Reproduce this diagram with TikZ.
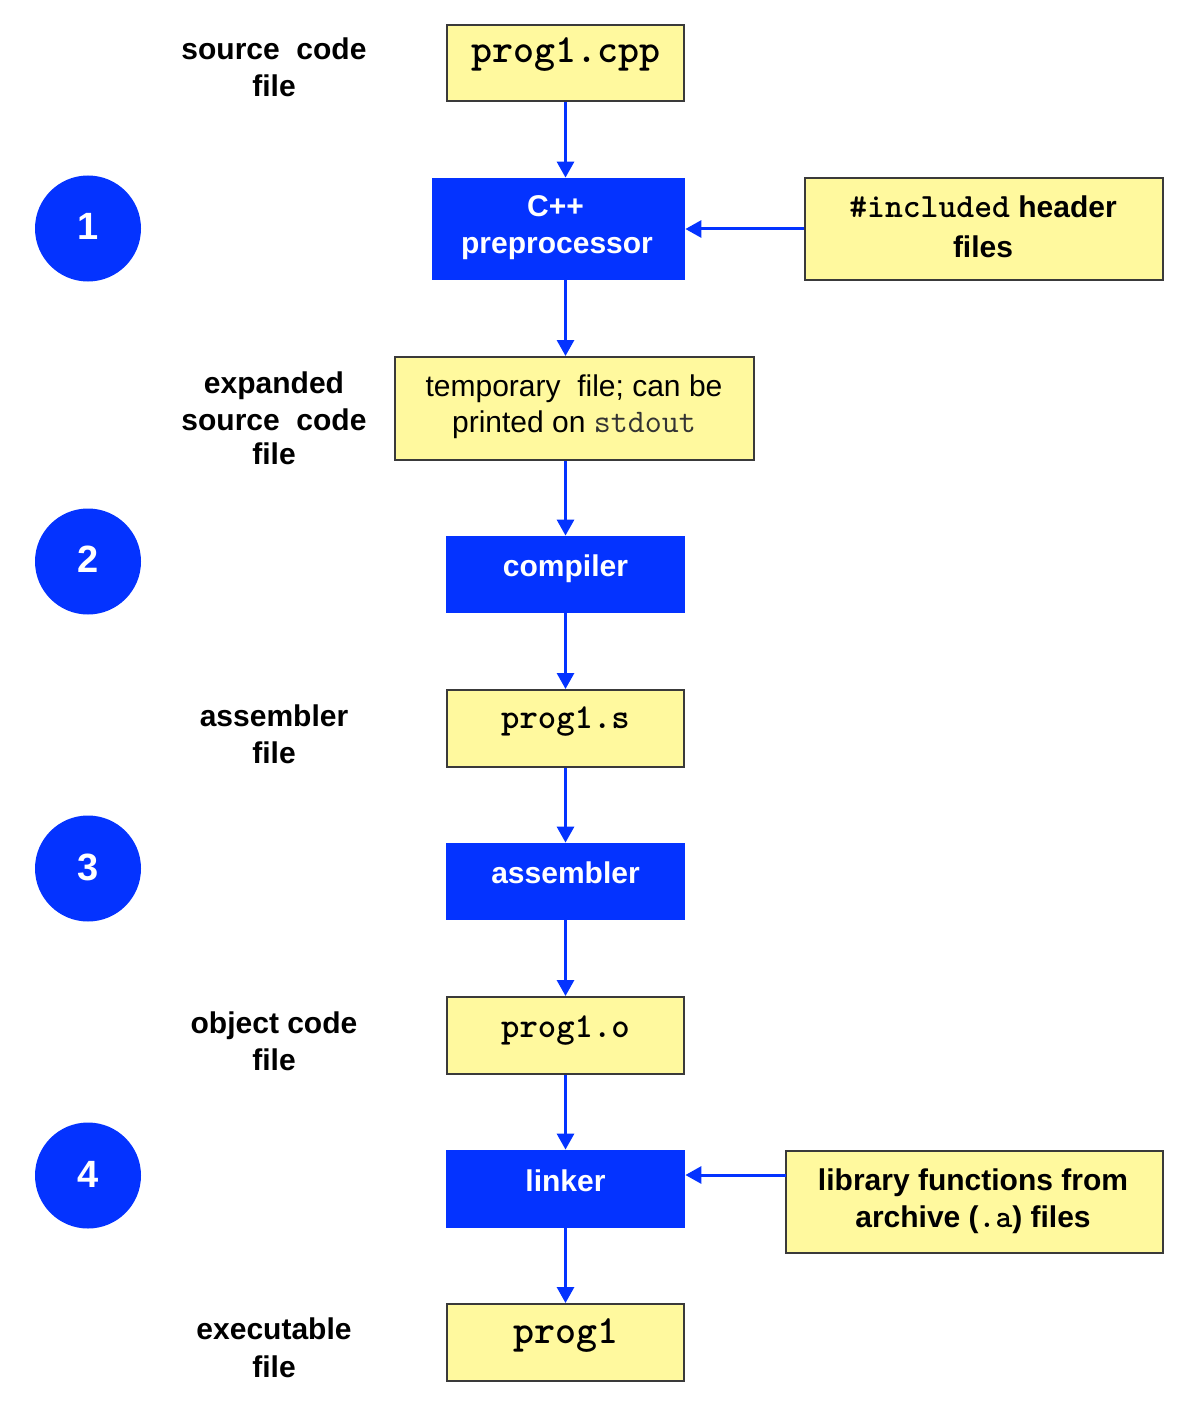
\documentclass[tikz,border=0pt]{standalone}
\usepackage{fontspec}
\setmainfont{Liberation Sans}
\usetikzlibrary{arrows.meta}
\definecolor{bblue}{HTML}{0433FF}
\definecolor{byellow}{HTML}{FFF99E}
\definecolor{boxline}{HTML}{3A3A3A}
\tikzset{
  filebox/.style={draw=boxline, line width=1pt, fill=byellow, inner sep=0pt},
  stepbox/.style={fill=bblue, inner sep=0pt},
  numdisc/.style={circle, fill=bblue, inner sep=0pt, minimum size=53pt},
  lbl/.style={anchor=base, inner sep=0pt, font=\bfseries\fontsize{15}{18}\selectfont},
  wlbl/.style={lbl, text=white},
  plain/.style={anchor=base, inner sep=0pt, font=\fontsize{15}{18}\selectfont},
  numtxt/.style={anchor=base, inner sep=0pt, text=white, font=\bfseries\fontsize{19}{22}\selectfont},
  bigcode/.style={anchor=base, inner sep=0pt, font=\ttfamily\bfseries\fontsize{20}{22}\selectfont},
  code/.style={anchor=base, inner sep=0pt, font=\ttfamily\bfseries\fontsize{17.5}{20}\selectfont},
  flow/.style={draw=bblue, line width=1.5pt, -{Triangle[length=8pt,width=8.5pt]}},
}
\begin{document}
\begin{tikzpicture}[x=0.5pt,y=-0.5pt]
\useasboundingbox (0,0) rectangle (1186,1412);
% boxes
\node[filebox, minimum width=118.5pt, minimum height=38pt] (cpp) at (565.5,63) {};
\node[stepbox, minimum width=126.5pt, minimum height=51pt] (pre) at (558.5,229) {};
\node[filebox, minimum width=179pt, minimum height=51pt] (hdr) at (984,229) {};
\node[filebox, minimum width=179.5pt, minimum height=51.5pt] (tmp) at (574.5,408.5) {};
\node[stepbox, minimum width=119.5pt, minimum height=38.5pt] (cmp) at (565.5,574.5) {};
\node[filebox, minimum width=118.5pt, minimum height=38.5pt] (asm) at (565.5,728.5) {};
\node[stepbox, minimum width=119.5pt, minimum height=38.5pt] (asb) at (565.5,881.5) {};
\node[filebox, minimum width=118.5pt, minimum height=38.5pt] (obj) at (565.5,1035.5) {};
\node[stepbox, minimum width=119.5pt, minimum height=39pt] (lnk) at (565.5,1189) {};
\node[filebox, minimum width=188.5pt, minimum height=51pt] (lib) at (974.5,1202) {};
\node[filebox, minimum width=118.5pt, minimum height=38.5pt] (exe) at (565.5,1342.5) {};
% step discs
\node[numdisc] (d1) at (88,228.5) {};
\node[numdisc] (d2) at (88,561.5) {};
\node[numdisc] (d3) at (88,868.5) {};
\node[numdisc] (d4) at (88,1175.5) {};
\node[numtxt] (n1) at (88,240) {1};
\node[numtxt] (n2) at (88,572) {2};
\node[numtxt] (n3) at (88,880) {3};
\node[numtxt] (n4) at (88,1187) {4};
% box texts
\node[bigcode] (tcpp) at (565.5,63) {prog1.cpp};
\node[wlbl] (tpre1) at (555.5,217) {C++};
\node[wlbl] (tpre2) at (557,253) {preprocessor};
\node[lbl] (thdr1) at (983,218) {{\ttfamily\fontsize{17}{20}\selectfont\#included} header};
\node[lbl] (thdr2) at (983,257) {files};
\node[plain] (ttmp1) at (574,396) {temporary\ \ file; can be};
\node[plain] (ttmp2) at (574,432) {printed on {\ttfamily\mdseries\fontsize{16.5}{20}\selectfont\color{black!80}stdout}};
\node[wlbl] (tcmp) at (565.5,576) {compiler};
\node[code] (tasm) at (565.5,728) {prog1.s};
\node[wlbl] (tasb) at (565.5,883) {assembler};
\node[code] (tobj) at (565.5,1037) {prog1.o};
\node[wlbl] (tlnk) at (565.5,1191) {linker};
\node[lbl] (tlib1) at (973,1190) {library functions from};
\node[lbl] (tlib2) at (973,1227) {archive ({\ttfamily\fontsize{16}{20}\selectfont.a}) files};
\node[bigcode] (texe) at (565.5,1343) {prog1};
% side labels
\node[lbl] (s1a) at (274,60) {source\ \ code};
\node[lbl] (s1b) at (274,97) {file};
\node[lbl] (s2a) at (274,393) {expanded};
\node[lbl] (s2b) at (274,430) {source\ \ code};
\node[lbl] (s2c) at (274,464) {file};
\node[lbl] (s3a) at (274,726) {assembler};
\node[lbl] (s3b) at (274,763) {file};
\node[lbl] (s4a) at (274,1033) {object code};
\node[lbl] (s4b) at (274,1070) {file};
\node[lbl] (s5a) at (274,1339) {executable};
\node[lbl] (s5b) at (274,1377) {file};
% connectors
\draw[flow] (cpp.south) -- (cpp.south |- pre.north);
\draw[flow] (cpp.south |- pre.south) -- (cpp.south |- tmp.north);
\draw[flow] (cpp.south |- tmp.south) -- (cmp.north);
\draw[flow] (cmp.south) -- (asm.north);
\draw[flow] (asm.south) -- (asb.north);
\draw[flow] (asb.south) -- (obj.north);
\draw[flow] (obj.south) -- (lnk.north);
\draw[flow] (lnk.south) -- (exe.north);
\draw[flow] (hdr.west) -- (pre.east);
\coordinate (libin) at (786,1175);
\draw[flow] (libin) -- (libin -| lnk.east);
\end{tikzpicture}
\end{document}
